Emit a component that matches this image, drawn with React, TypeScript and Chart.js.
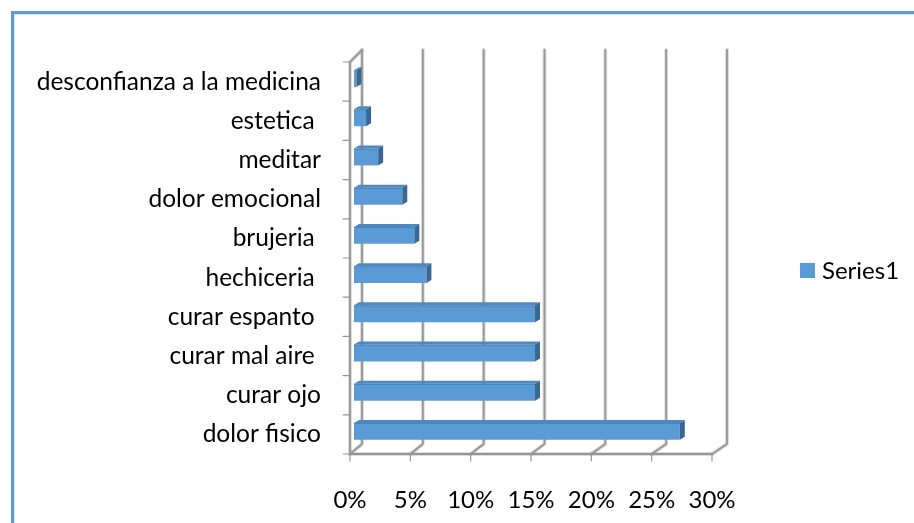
import React, { useEffect, useRef } from "react";
import { Chart, registerables } from "chart.js";

Chart.register(...registerables);

const categories = [
  "desconfianza a la medicina",
  "estetica ",
  "meditar",
  "dolor emocional",
  "brujeria ",
  "hechiceria ",
  "curar espanto ",
  "curar mal aire ",
  "curar ojo",
  "dolor fisico",
];
const values = [0.2, 1, 2, 4, 5, 6, 15, 15, 15, 27];
const seriesName = "Series1";
const xMin = 0;
const xMax = 30;
const xStep = 5;

const FONT = "Lato, 'Liberation Sans', sans-serif";
const BAR = "#5B9BD5";
const BAR_TOP = "#4F88BE";
const BAR_SIDE = "#3A6894";
const GRID = "#959595";

const frame3d = {
  id: "frame3d",
  beforeDraw(chart: any) {
    const { ctx, width, height } = chart;
    ctx.save();
    ctx.fillStyle = "#ffffff";
    ctx.fillRect(0, 0, width, height);
    ctx.fillStyle = "#5B9BD5";
    ctx.fillRect(11, 11, width - 11, 3);
    ctx.fillRect(11, 11, 3, height - 11);
    ctx.fillStyle = "#dfe8f3";
    ctx.fillRect(14, 14, width - 14, 1);
    ctx.fillRect(14, 14, 1, height - 14);
    ctx.restore();
  },
  beforeDatasetsDraw(chart: any) {
    const { ctx, chartArea, scales } = chart;
    const xs = scales.x;
    const { left, right, top, bottom } = chartArea;
    const backTop = top - 12;
    const backBottom = bottom - 10;
    const back = (v: number, xf: number) => xf + 12 + v * 0.1;

    const line = (pts: number[][]) => {
      ctx.beginPath();
      ctx.moveTo(pts[0][0], pts[0][1]);
      for (let i = 1; i < pts.length; i++) ctx.lineTo(pts[i][0], pts[i][1]);
      ctx.stroke();
    };

    ctx.save();
    ctx.lineCap = "round";
    ctx.lineJoin = "round";
    const passes = [
      { c: "rgba(180,180,180,0.45)", w: 4 },
      { c: GRID, w: 1.8 },
    ];
    for (const p of passes) {
      ctx.strokeStyle = p.c;
      ctx.lineWidth = p.w;
      xs.ticks.forEach((t: any) => {
        const v = t.value;
        const xf = xs.getPixelForValue(v);
        const xb = back(v, xf);
        line([
          [xb, backTop],
          [xb, backBottom],
          [xf, bottom],
        ]);
      });
      const xb0 = back(xMin, left);
      line([
        [xb0, backTop],
        [left, top],
        [left, bottom],
        [right, bottom],
      ]);
    }
    ctx.strokeStyle = GRID;
    ctx.lineWidth = 1.2;
    const n = categories.length;
    for (let i = 0; i <= n; i++) {
      const y = top + ((bottom - top) * i) / n;
      line([
        [left - 7, y],
        [left, y],
      ]);
    }
    xs.ticks.forEach((t: any) => {
      const xf = xs.getPixelForValue(t.value);
      line([
        [xf, bottom],
        [xf, bottom + 7],
      ]);
    });
    ctx.restore();

    ctx.save();
    ctx.translate(4, -3);
  },
  afterDatasetsDraw(chart: any) {
    const { ctx } = chart;
    const meta = chart.getDatasetMeta(0);
    const dx = 5;
    const dy = -3;
    meta.data.forEach((el: any) => {
      const { x, y, base, height } = el.getProps(["x", "y", "base", "height"], true);
      const yt = y - height / 2;
      const yb = y + height / 2;
      ctx.fillStyle = BAR_TOP;
      ctx.beginPath();
      ctx.moveTo(base, yt);
      ctx.lineTo(x, yt);
      ctx.lineTo(x + dx, yt + dy);
      ctx.lineTo(base + dx, yt + dy);
      ctx.closePath();
      ctx.fill();
      ctx.fillStyle = BAR_SIDE;
      ctx.beginPath();
      ctx.moveTo(x, yt);
      ctx.lineTo(x + dx, yt + dy);
      ctx.lineTo(x + dx, yb + dy);
      ctx.lineTo(x, yb);
      ctx.closePath();
      ctx.fill();
      ctx.fillStyle = "rgba(40,80,130,0.3)";
      ctx.fillRect(base, yt, x - base, 1.2);
    });
    ctx.restore();
  },
  afterDraw(chart: any) {
    const { ctx } = chart;
    const ds = chart.data.datasets[0];
    ctx.save();
    ctx.fillStyle = ds.backgroundColor;
    ctx.fillRect(800, 263, 15, 15);
    ctx.fillStyle = "#000";
    ctx.font = `24px ${FONT}`;
    ctx.textBaseline = "middle";
    ctx.textAlign = "left";
    ctx.fillText(ds.label, 822, 271);
    ctx.restore();
  },
};

export default function App() {
  const ref = useRef<HTMLCanvasElement | null>(null);
  useEffect(() => {
    if (!ref.current) return;
    const chart = new Chart(ref.current, {
      type: "bar",
      data: {
        labels: categories,
        datasets: [
          {
            label: seriesName,
            data: values,
            backgroundColor: BAR,
            borderWidth: 0,
            barPercentage: 0.43,
            categoryPercentage: 1,
          },
        ],
      },
      options: {
        indexAxis: "y",
        animation: false,
        responsive: false,
        maintainAspectRatio: false,
        layout: { padding: { top: 62, right: 202, bottom: 0, left: 0 } },
        plugins: { legend: { display: false }, tooltip: { enabled: false } },
        scales: {
          x: {
            min: xMin,
            max: xMax,
            grid: { display: false },
            border: { display: false },
            ticks: {
              stepSize: xStep,
              padding: 24,
              color: "#000",
              font: { family: FONT, size: 24 },
              maxRotation: 0,
              callback: (v: any) => `${Math.round(Number(v))}%`,
            },
            afterFit: (s: any) => {
              s.height = 69;
            },
          },
          y: {
            grid: { display: false },
            border: { display: false },
            ticks: {
              padding: 21,
              color: "#000",
              font: { family: FONT, size: 24.5 },
              autoSkip: false,
            },
            afterFit: (s: any) => {
              s.width = 350;
            },
          },
        },
      },
      plugins: [frame3d],
    });
    return () => chart.destroy();
  }, []);
  return (
    <div style={{ position: "fixed", left: 0, top: 0, width: 914, height: 523 }}>
      <canvas ref={ref} width={914} height={523} />
    </div>
  );
}
